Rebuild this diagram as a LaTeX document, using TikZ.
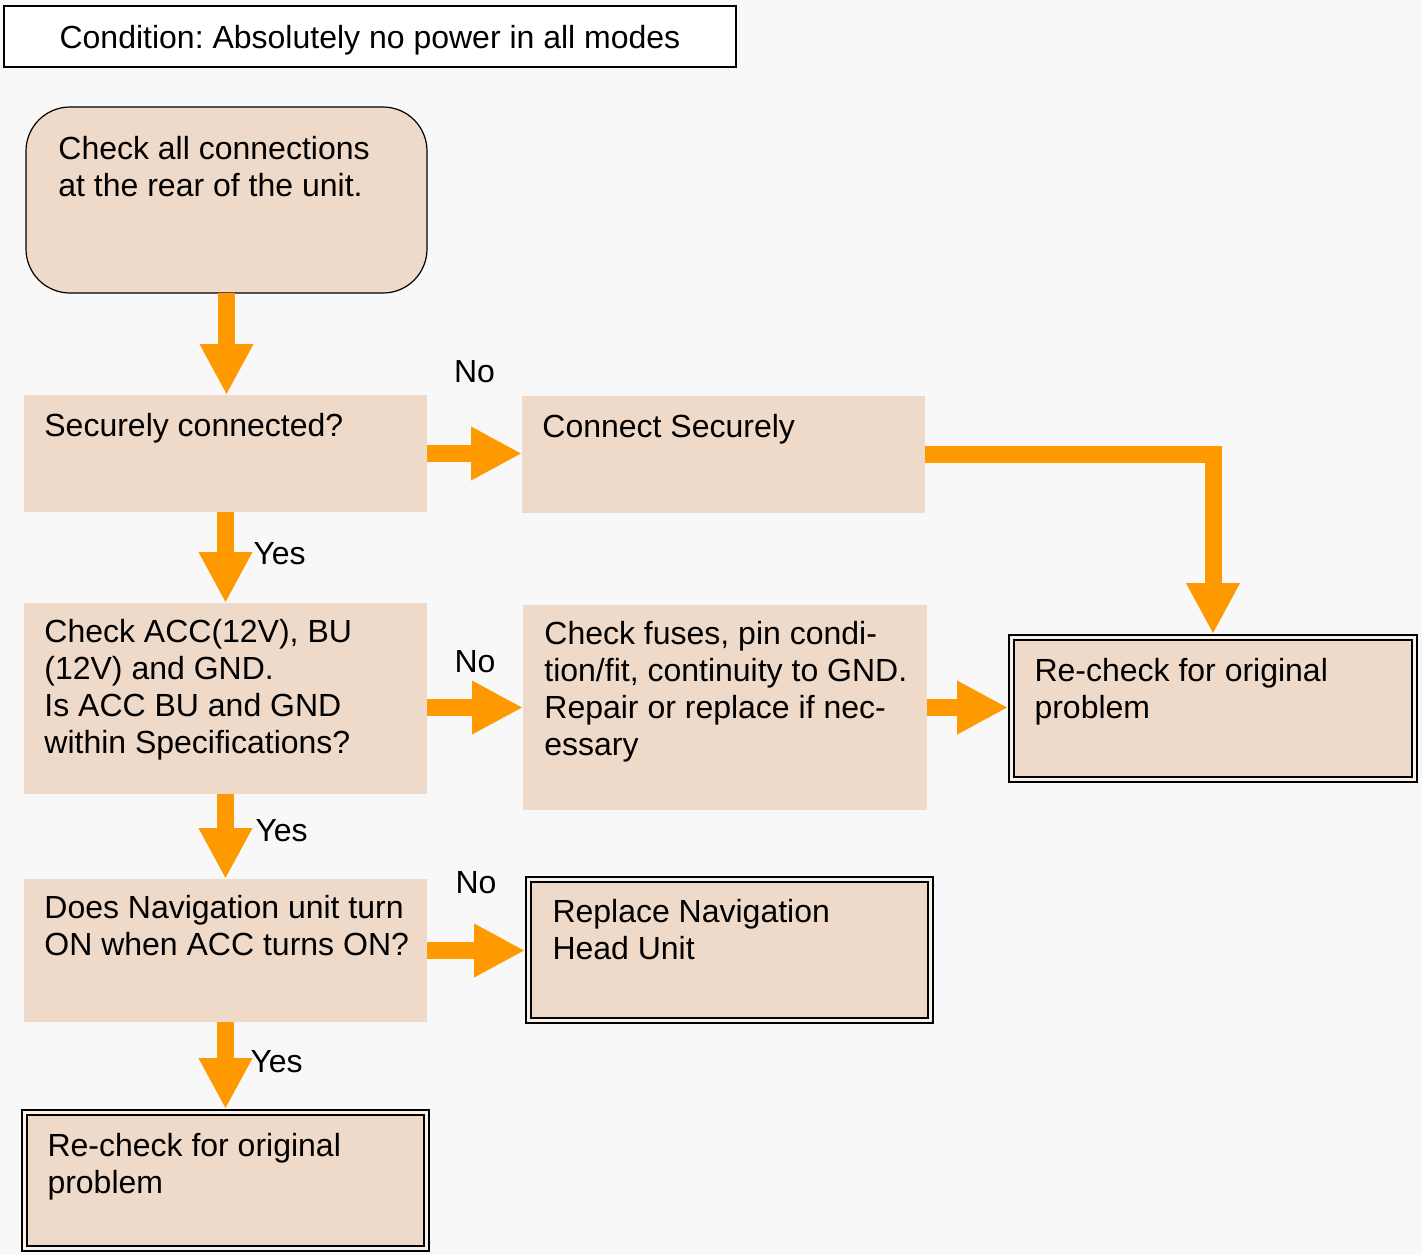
\documentclass[tikz,border=0pt]{standalone}
\usepackage{fontspec}
\setmainfont{Liberation Sans}
\usetikzlibrary{arrows.meta}
\frenchspacing

\definecolor{bgcol}{HTML}{F8F8F8}
\definecolor{boxcol}{HTML}{EFD9C8}
\definecolor{flowcol}{HTML}{FF9900}

\tikzset{
  box/.style={fill=boxcol, minimum width=201.5pt, outer sep=0pt, inner sep=0pt},
  dbox/.style={box, draw=black, line width=1.1pt, double=white!60!boxcol,
    double distance=1.2pt, outer sep=1.7pt},
  txt/.style={anchor=base west, align=left, inner sep=0pt,
    font=\fontsize{16pt}{18.4pt}\selectfont},
  lbl/.style={inner sep=0pt, outer sep=0pt, font=\fontsize{16pt}{18.4pt}\selectfont},
  flow/.style={draw=flowcol, line width=8.5pt, line join=miter,
    -{Triangle[length=25.5pt,width=25pt]}}
}

\begin{document}
\begin{tikzpicture}[x=0.5pt,y=-0.5pt]
\fill[bgcol] (0,0) rectangle (1422,1255);
\useasboundingbox (0,0) rectangle (1422,1255);

% heading
\node (cond) [draw, line width=1pt, fill=white, minimum width=366pt,
  minimum height=30.5pt, lbl, text depth=0pt] at (370,36.5)
  {Condition: Absolutely no power in all modes};

% boxes
\node (check) [box, draw, line width=0.6pt, rounded corners=22pt,
  minimum width=200.5pt, minimum height=93pt] at (226.5,200) {};
\node (secure) [box, minimum height=58.5pt] at (225.5,453.5) {};
\node (connect) [box, minimum height=58.5pt] at (723.5,454.5) {};
\node (acc) [box, minimum height=95.5pt] at (225.5,698.5) {};
\node (fuses) [box, minimum width=202pt, minimum height=102.5pt] at (725,707.5) {};
\node (recheckA) [dbox, minimum height=71pt] at (1213,708.5) {};
\node (nav) [box, minimum height=71.5pt] at (225.5,950.5) {};
\node (replace) [dbox, minimum width=201pt, minimum height=70.5pt] at (729.5,950) {};
\node (recheckB) [dbox, minimum width=201pt, minimum height=68pt] at (225.5,1180.5) {};

% texts (base = last line)
\node[txt] (check-t) at ([shift={(32,89)}]check.north west)
  {Check all connections\\at the rear of the unit.};
\node[txt] (secure-t) at ([shift={(20,41)}]secure.north west) {Securely connected?};
\node[txt] (connect-t) at ([shift={(20,41)}]connect.north west) {Connect Securely};
\node[txt] (acc-t) at ([shift={(20,150)}]acc.north west)
  {Check ACC(12V), BU\\(12V) and GND.\\Is ACC BU and GND\\within Specifications?};
\node[txt] (fuses-t) at ([shift={(21,150)}]fuses.north west)
  {Check fuses, pin condi-\\tion/fit, continuity to GND.\\Repair or replace if nec-\\essary};
\node[txt] (recheckA-t) at ([shift={(26,84)}]recheckA.north west)
  {Re-check for original\\problem};
\node[txt] (nav-t) at ([shift={(20,76)}]nav.north west)
  {Does Navigation unit turn\\ON when ACC turns ON?};
\node[txt] (replace-t) at ([shift={(27,83)}]replace.north west)
  {Replace Navigation\\Head Unit};
\node[txt] (recheckB-t) at ([shift={(26,84)}]recheckB.north west)
  {Re-check for original\\problem};

% connectors
\draw[flow] (check.south) -- (check.south |- secure.north);
\draw[flow] (secure.east) -- (secure.east -| connect.west)
  node[midway, lbl, yshift=41pt] (no1) {No};
\draw[flow] (connect.east) -| (recheckA.north);
\draw[flow] (secure.south) -- (secure.south |- acc.north)
  node[midway, lbl, anchor=west, xshift=14pt, yshift=2pt] (yes1) {Yes};
\draw[flow] (acc.east |- fuses.west) -- (fuses.west)
  node[midway, lbl, yshift=23pt] (no2) {No};
\draw[flow] (fuses.east) -- (fuses.east -| recheckA.west);
\draw[flow] (acc.south) -- (acc.south |- nav.north)
  node[midway, lbl, anchor=west, xshift=15pt, yshift=3pt] (yes2) {Yes};
\draw[flow] (nav.east) -- (nav.east -| replace.west)
  node[midway, lbl, yshift=34pt] (no3) {No};
\draw[flow] (nav.south) -- (nav.south |- recheckB.north)
  node[midway, lbl, anchor=west, xshift=12.5pt, yshift=2pt] (yes3) {Yes};

\end{tikzpicture}
\end{document}
